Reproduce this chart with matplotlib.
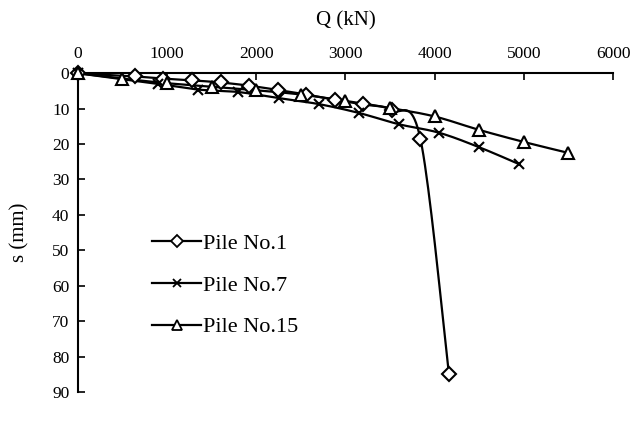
import numpy as np
import matplotlib
matplotlib.use("Agg")
import matplotlib.pyplot as plt

# load (kN) and settlement (mm)
pile1_q = [0, 640, 960, 1280, 1600, 1920, 2240, 2560, 2880, 3200, 3520, 3840, 4160]
pile1_s = [0, 0.9, 1.5, 2.0, 2.6, 3.5, 4.7, 6.0, 7.5, 8.8, 10.5, 18.5, 85.0]

pile7_q = [0, 900, 1350, 1800, 2250, 2700, 3150, 3600, 4050, 4500, 4950]
pile7_s = [0, 3.0, 4.6, 5.3, 7.0, 8.7, 11.2, 14.4, 16.8, 20.9, 25.7]

pile15_q = [0, 500, 1000, 1500, 2000, 2500, 3000, 3500, 4000, 4500, 5000, 5500]
pile15_s = [0, 1.5, 2.8, 3.8, 4.8, 6.0, 7.8, 9.8, 12.2, 16.0, 19.4, 22.5]

labels = ["Pile No.1", "Pile No.7", "Pile No.15"]
x_ticks = [0, 1000, 2000, 3000, 4000, 5000, 6000]
y_ticks = [0, 10, 20, 30, 40, 50, 60, 70, 80, 90]

plt.rcParams['font.family'] = ['Liberation Serif', 'DejaVu Serif']


def smooth(x, y, n=20):
    # Catmull-Rom curve through the points, like Excel's smoothed line
    p = np.column_stack([x, y]).astype(float)
    p = np.vstack([p[0], p, p[-1]])
    out = []
    t = np.linspace(0, 1, n, endpoint=False)[:, None]
    for i in range(1, len(p) - 2):
        p0, p1, p2, p3 = p[i - 1], p[i], p[i + 1], p[i + 2]
        c = 0.5 * ((2 * p1) + (-p0 + p2) * t + (2 * p0 - 5 * p1 + 4 * p2 - p3) * t ** 2
                   + (-p0 + 3 * p1 - 3 * p2 + p3) * t ** 3)
        out.append(c)
    out.append(p[-2][None, :])
    c = np.vstack(out)
    return c[:, 0], c[:, 1]


fig = plt.figure(figsize=(6.35, 4.26), dpi=100)
ax = fig.add_axes([0.1225, 0.080, 0.843, 0.748])

series = [(pile1_q, pile1_s, 'D', 7.5), (pile7_q, pile7_s, 'x', 7), (pile15_q, pile15_s, '^', 9)]
for (q, s, m, ms), lab in zip(series, labels):
    xs, ys = smooth(q, s)
    ax.plot(xs, ys, color='black', lw=1.6, clip_on=False, zorder=2)
    ax.plot(q, s, linestyle='none', marker=m, markersize=ms, markerfacecolor='white',
            markeredgecolor='black', markeredgewidth=1.5, clip_on=False, zorder=3)
    # legend handle
    ax.plot([], [], color='black', lw=1.6, marker=m, markersize=ms * 0.85,
            markerfacecolor='white', markeredgecolor='black', markeredgewidth=1.3, label=lab)

ax.set_xlim(0, 6000)
ax.set_ylim(90, 0)
ax.set_xticks(x_ticks)
ax.set_yticks(y_ticks)
ax.xaxis.tick_top()
ax.xaxis.set_label_position('top')
ax.tick_params(axis='both', direction='in', length=5, width=1.2, labelsize=12.5, pad=6)
ax.tick_params(axis='x', pad=8)
for sp in ['right', 'bottom']:
    ax.spines[sp].set_visible(False)
for sp in ['left', 'top']:
    ax.spines[sp].set_linewidth(1.5)

ax.set_xlabel('Q (kN)', fontsize=15, labelpad=15)
ax.set_ylabel('s (mm)', fontsize=15, labelpad=16)

leg = ax.legend(loc='upper left', bbox_to_anchor=(0.222, 0.478), bbox_transform=fig.transFigure,
                frameon=False, fontsize=16, handlelength=2.2, handletextpad=0.1,
                labelspacing=0.95, borderpad=0)

fig.savefig('out.png', dpi=100)
